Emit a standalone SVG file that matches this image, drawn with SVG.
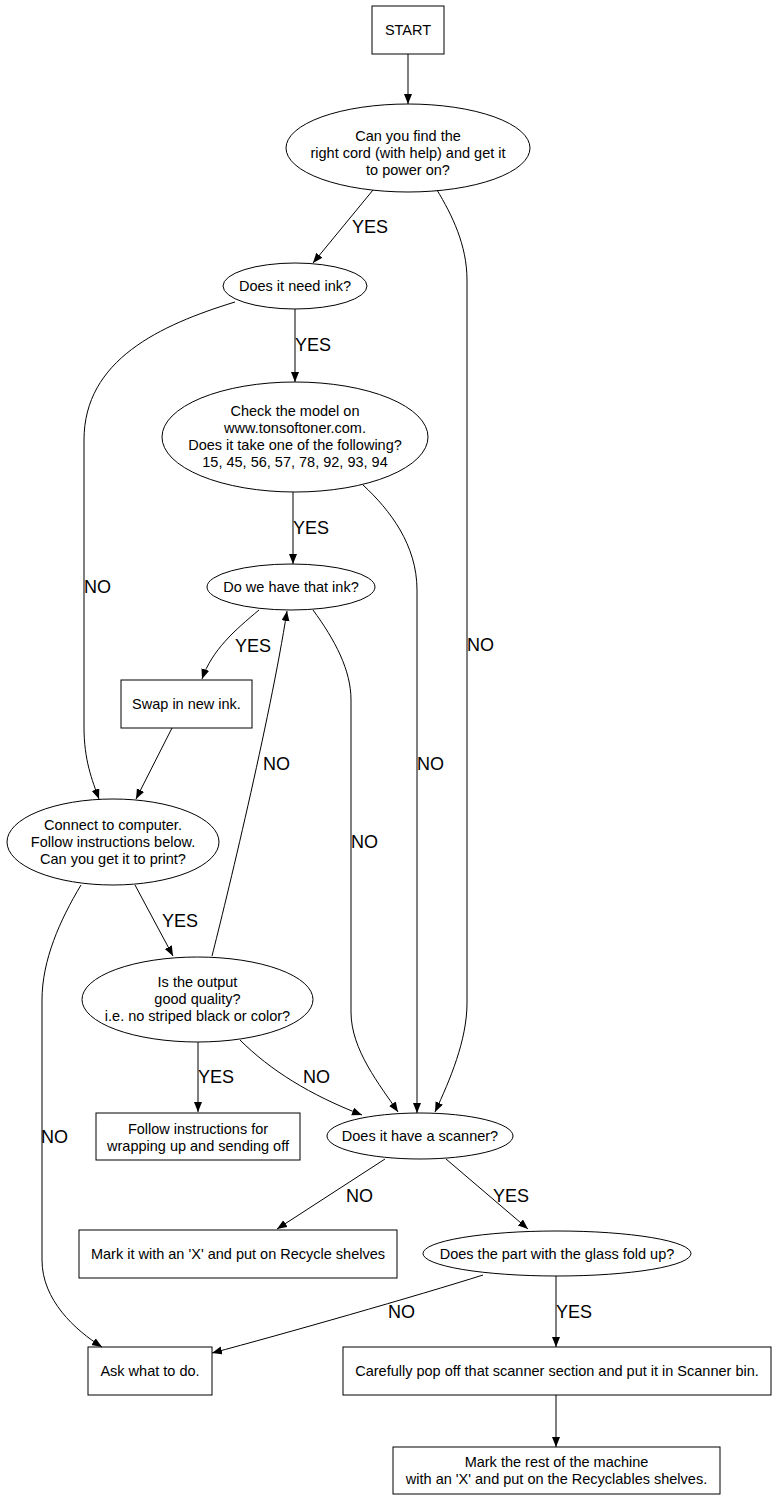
<svg xmlns="http://www.w3.org/2000/svg" width="773" height="1499" viewBox="0 0 773 1499">
<style>
.n{fill:none;stroke:#000;stroke-width:1}
.t{font-family:"Liberation Sans",Arial,sans-serif;font-size:14.5px;text-anchor:middle;fill:#000}
.e{fill:none;stroke:#000;stroke-width:1;marker-end:url(#ah)}
.l{font-family:"Liberation Sans",Arial,sans-serif;font-size:18px;fill:#000}
</style>
<defs>
<marker id="ah" markerUnits="userSpaceOnUse" markerWidth="12" markerHeight="10" refX="10" refY="4" orient="auto">
<path d="M0,0 L10,4 L0,8 Z" fill="#000"/>
</marker>
</defs>
<rect width="773" height="1499" fill="#fff"/>
<g id="edges">
<path class="e" d="M408,54 L408,104"/>
<path class="e" d="M373,190 L313,263"/>
<text class="l" x="352" y="233">YES</text>
<path class="e" d="M437,190 C452,215 467,245 467,280 L467,1003 C467,1040 450,1080 435,1112"/>
<text class="l" x="467" y="651">NO</text>
<path class="e" d="M295,309 L295,382"/>
<text class="l" x="295" y="351">YES</text>
<path class="e" d="M235,302 C160,325 84,360 84,440 L84,727 C84,760 92,780 99,799"/>
<text class="l" x="84" y="593">NO</text>
<path class="e" d="M293,492 L293,564"/>
<text class="l" x="293" y="534">YES</text>
<path class="e" d="M363,485 C390,510 417,545 417,590 L417,1113"/>
<text class="l" x="417" y="770">NO</text>
<path class="e" d="M259,610 C235,630 212,650 202,679"/>
<text class="l" x="235" y="652">YES</text>
<path class="e" d="M313,610 C335,640 351,670 351,700 L351,1012 C351,1050 380,1085 398,1112"/>
<text class="l" x="351" y="848">NO</text>
<path class="e" d="M172,728 L136,799"/>
<path class="e" d="M135,885 L173,956"/>
<text class="l" x="162" y="927">YES</text>
<path class="e" d="M81,885 C60,920 42,960 42,1000 L42,1260 C42,1300 75,1330 102,1347"/>
<text class="l" x="41" y="1143">NO</text>
<path class="e" d="M212,956 C225,905 270,720 287,611"/>
<text class="l" x="263" y="770">NO</text>
<path class="e" d="M198,1042 L198,1112"/>
<text class="l" x="198" y="1083">YES</text>
<path class="e" d="M240,1040 C270,1070 310,1095 362,1115"/>
<text class="l" x="303" y="1083">NO</text>
<path class="e" d="M385,1159 L277,1229"/>
<text class="l" x="346" y="1202">NO</text>
<path class="e" d="M446,1159 L528,1229"/>
<text class="l" x="493" y="1202">YES</text>
<path class="e" d="M483,1275 C420,1295 280,1335 212,1353"/>
<text class="l" x="388" y="1318">NO</text>
<path class="e" d="M556,1276 L556,1347"/>
<text class="l" x="556" y="1318">YES</text>
<path class="e" d="M556,1395 L556,1447"/>
</g>
<g id="start"><rect class="n" x="372" y="6" width="72" height="48"/><text class="t" x="408" y="35">START</text></g>
<g id="cord"><ellipse class="n" cx="408" cy="148" rx="122" ry="44"/>
<text class="t" x="408" y="141">Can you find the</text><text class="t" x="408" y="158">right cord (with help) and get it</text><text class="t" x="408" y="175">to power on?</text></g>
<g id="needink"><ellipse class="n" cx="295" cy="286" rx="72" ry="23"/><text class="t" x="295" y="291">Does it need ink?</text></g>
<g id="check"><ellipse class="n" cx="295" cy="437" rx="133" ry="55"/>
<text class="t" x="295" y="416">Check the model on</text><text class="t" x="295" y="433">www.tonsoftoner.com.</text><text class="t" x="295" y="450">Does it take one of the following?</text><text class="t" x="295" y="467">15, 45, 56, 57, 78, 92, 93, 94</text></g>
<g id="haveink"><ellipse class="n" cx="291" cy="587" rx="84" ry="23"/><text class="t" x="291" y="592">Do we have that ink?</text></g>
<g id="swap"><rect class="n" x="121" y="680" width="131" height="48"/><text class="t" x="186.5" y="709">Swap in new ink.</text></g>
<g id="connect"><ellipse class="n" cx="113" cy="842" rx="106" ry="43"/>
<text class="t" x="113" y="830">Connect to computer.</text><text class="t" x="113" y="847">Follow instructions below.</text><text class="t" x="113" y="864">Can you get it to print?</text></g>
<g id="quality"><ellipse class="n" cx="197.5" cy="999.5" rx="115.5" ry="42.5"/>
<text class="t" x="197.5" y="987">Is the output</text><text class="t" x="197.5" y="1004">good quality?</text><text class="t" x="197.5" y="1021">i.e. no striped black or color?</text></g>
<g id="follow"><rect class="n" x="96" y="1113" width="204" height="47"/>
<text class="t" x="198" y="1134">Follow instructions for</text><text class="t" x="198" y="1151">wrapping up and sending off</text></g>
<g id="scanner"><ellipse class="n" cx="420" cy="1136" rx="93" ry="23"/><text class="t" x="420" y="1141">Does it have a scanner?</text></g>
<g id="markit"><rect class="n" x="79" y="1230" width="318" height="48"/><text class="t" x="238" y="1259">Mark it with an 'X' and put on Recycle shelves</text></g>
<g id="fold"><ellipse class="n" cx="557" cy="1253.5" rx="134" ry="22.5"/><text class="t" x="557" y="1258.5">Does the part with the glass fold up?</text></g>
<g id="ask"><rect class="n" x="88" y="1347" width="124" height="48"/><text class="t" x="150" y="1376">Ask what to do.</text></g>
<g id="popoff"><rect class="n" x="343" y="1347" width="428" height="48"/><text class="t" x="557" y="1376">Carefully pop off that scanner section and put it in Scanner bin.</text></g>
<g id="markrest"><rect class="n" x="393" y="1447" width="327" height="47"/>
<text class="t" x="556.5" y="1467">Mark the rest of the machine</text><text class="t" x="556.5" y="1484">with an 'X' and put on the Recyclables shelves.</text></g>
</svg>
